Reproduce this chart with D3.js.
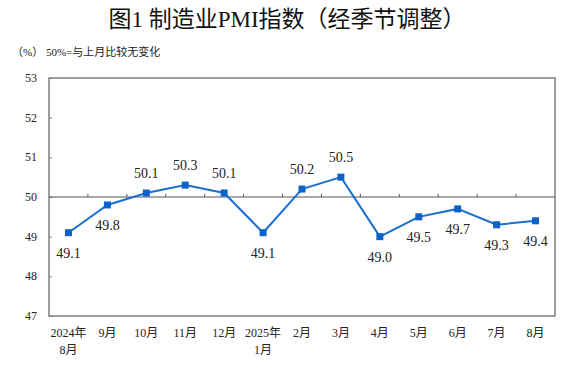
<!DOCTYPE html>
<html>
<head>
<meta charset="utf-8">
<script src="https://cdn.jsdelivr.net/npm/d3@7"></script>
<style>
  body { margin: 0; background: #fff; }
  svg { display: block; }
</style>
</head>
<body>
<div id="chart"></div>
<script>
// data
var months = ["2024年|8月", "9月", "10月", "11月", "12月", "2025年|1月", "2月", "3月", "4月", "5月", "6月", "7月", "8月"];
var pmi = [49.1, 49.8, 50.1, 50.3, 50.1, 49.1, 50.2, 50.5, 49.0, 49.5, 49.7, 49.3, 49.4];
// label above (1) or below (-1) the point
var labelSide = [-1, -1, 1, 1, 1, -1, 1, 1, -1, -1, -1, -1, -1];
var yTicks = [47, 48, 49, 50, 51, 52, 53];

var W = 573, H = 372;
var margin = {top: 78, right: 18, bottom: 56, left: 49};
var serif = "'Liberation Serif', 'Times New Roman', 'Noto Sans CJK SC', serif";

var svg = d3.select("#chart").append("svg")
    .attr("width", W)
    .attr("height", H);

var x = d3.scaleBand()
    .domain(d3.range(months.length))
    .range([margin.left, W - margin.right]);

var y = d3.scaleLinear()
    .domain([47, 53])
    .range([H - margin.bottom, margin.top]);

// title
svg.append("text")
    .attr("x", 287)
    .attr("y", 27)
    .attr("text-anchor", "middle")
    .attr("font-family", serif)
    .attr("font-size", "23px")
    .attr("fill", "#111")
    .text("图1  制造业PMI指数（经季节调整）");

svg.append("text")
    .attr("x", 12)
    .attr("y", 56)
    .attr("font-family", serif)
    .attr("font-size", "11px")
    .attr("fill", "#222")
    .text("（%） 50%=与上月比较无变化");

// frame
svg.append("rect")
    .attr("x", margin.left)
    .attr("y", margin.top)
    .attr("width", W - margin.left - margin.right)
    .attr("height", H - margin.top - margin.bottom)
    .attr("fill", "none")
    .attr("stroke", "#808080")
    .attr("stroke-width", 1.5);

// y axis ticks (inside) and labels
var yAxis = d3.axisRight(y)
    .tickValues(yTicks)
    .tickSize(3)
    .tickFormat("");
svg.append("g")
    .attr("transform", "translate(" + margin.left + ",0)")
    .call(yAxis)
    .call(function(g) { g.select(".domain").remove(); })
    .selectAll("line").attr("stroke", "#808080");

svg.selectAll(".ylab")
    .data(yTicks)
    .enter()
    .append("text")
    .attr("class", "ylab")
    .attr("x", 37)
    .attr("y", function(d) { return y(d) + 4; })
    .attr("text-anchor", "end")
    .attr("font-family", serif)
    .attr("font-size", "12px")
    .attr("fill", "#222")
    .text(function(d) { return d; });

// 50 baseline with category ticks
svg.append("line")
    .attr("x1", margin.left)
    .attr("x2", W - margin.right)
    .attr("y1", y(50))
    .attr("y2", y(50))
    .attr("stroke", "#555")
    .attr("stroke-width", 1.2);

svg.selectAll(".xtick")
    .data(d3.range(1, months.length))
    .enter()
    .append("line")
    .attr("class", "xtick")
    .attr("x1", function(d) { return x(d); })
    .attr("x2", function(d) { return x(d); })
    .attr("y1", y(50))
    .attr("y2", y(50) - 3)
    .attr("stroke", "#555");

// x labels
var xl = svg.selectAll(".xlab")
    .data(months)
    .enter()
    .append("text")
    .attr("class", "xlab")
    .attr("text-anchor", "middle")
    .attr("font-family", serif)
    .attr("font-size", "12px")
    .attr("fill", "#222");
xl.each(function(d, i) {
    var parts = d.split("|");
    var t = d3.select(this);
    parts.forEach(function(p, k) {
        t.append("tspan")
            .attr("x", x(i) + x.bandwidth() / 2)
            .attr("y", 337 + k * 17)
            .text(p);
    });
});

// line
var line = d3.line()
    .x(function(d, i) { return x(i) + x.bandwidth() / 2; })
    .y(function(d) { return y(d); });

svg.append("path")
    .datum(pmi)
    .attr("d", line)
    .attr("fill", "none")
    .attr("stroke", "#1a6fd0")
    .attr("stroke-width", 2);

svg.selectAll(".pt")
    .data(pmi)
    .enter()
    .append("rect")
    .attr("class", "pt")
    .attr("x", function(d, i) { return x(i) + x.bandwidth() / 2 - 3.5; })
    .attr("y", function(d) { return y(d) - 3.5; })
    .attr("width", 7)
    .attr("height", 7)
    .attr("fill", "#0a62cc");

svg.selectAll(".vlab")
    .data(pmi)
    .enter()
    .append("text")
    .attr("class", "vlab")
    .attr("x", function(d, i) { return x(i) + x.bandwidth() / 2; })
    .attr("y", function(d, i) { return y(d) - labelSide[i] * 20 + 5; })
    .attr("text-anchor", "middle")
    .attr("font-family", serif)
    .attr("font-size", "14px")
    .attr("fill", "#222")
    .text(function(d) { return d.toFixed(1); });
</script>
</body>
</html>
